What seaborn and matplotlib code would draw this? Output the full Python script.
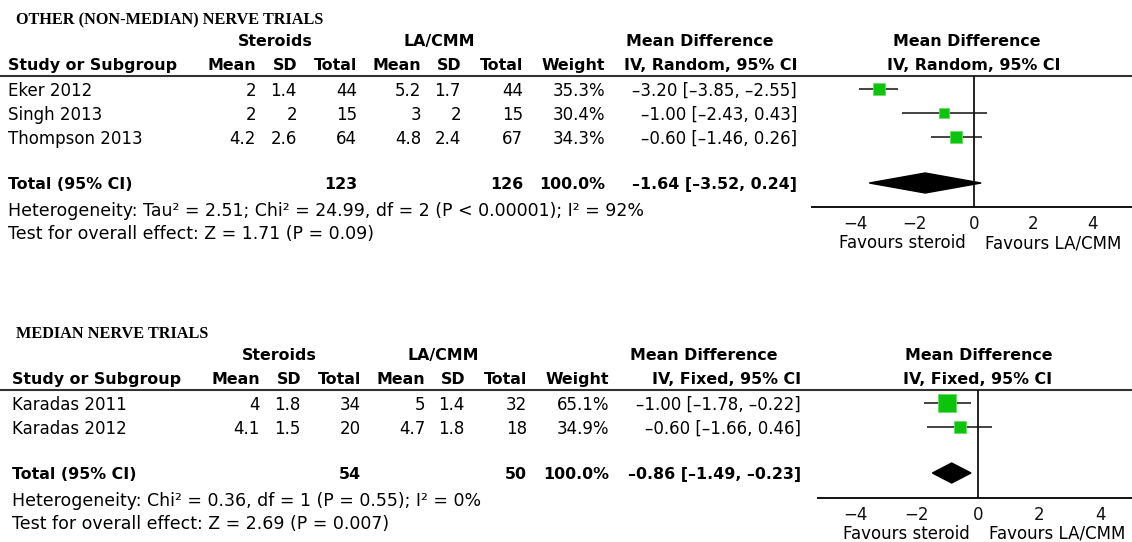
import pandas as pd
import seaborn as sns
import matplotlib.pyplot as plt

# ---- data: other (non-median) nerve trials ----
top_title = "OTHER (NON-MEDIAN) NERVE TRIALS"
top_studies = ["Eker 2012", "Singh 2013", "Thompson 2013"]
top_ster_mean = [2, 2, 4.2]
top_ster_sd = [1.4, 2, 2.6]
top_ster_n = [44, 15, 64]
top_la_mean = [5.2, 3, 4.8]
top_la_sd = [1.7, 2, 2.4]
top_la_n = [44, 15, 67]
top_weight = [35.3, 30.4, 34.3]
top_md = [-3.20, -1.00, -0.60]
top_lo = [-3.85, -2.43, -1.46]
top_hi = [-2.55, 0.43, 0.26]
top_total = {"n1": 123, "n2": 126, "md": -1.64, "lo": -3.52, "hi": 0.24}
top_method = "IV, Random, 95% CI"
top_het = "Heterogeneity: Tau² = 2.51; Chi² = 24.99, df = 2 (P < 0.00001); I² = 92%"
top_test = "Test for overall effect: Z = 1.71 (P = 0.09)"

# ---- data: median nerve trials ----
bot_title = "MEDIAN NERVE TRIALS"
bot_studies = ["Karadas 2011", "Karadas 2012"]
bot_ster_mean = [4, 4.1]
bot_ster_sd = [1.8, 1.5]
bot_ster_n = [34, 20]
bot_la_mean = [5, 4.7]
bot_la_sd = [1.4, 1.8]
bot_la_n = [32, 18]
bot_weight = [65.1, 34.9]
bot_md = [-1.00, -0.60]
bot_lo = [-1.78, -1.66]
bot_hi = [-0.22, 0.46]
bot_total = {"n1": 54, "n2": 50, "md": -0.86, "lo": -1.49, "hi": -0.23}
bot_method = "IV, Fixed, 95% CI"
bot_het = "Heterogeneity: Chi² = 0.36, df = 1 (P = 0.55); I² = 0%"
bot_test = "Test for overall effect: Z = 2.69 (P = 0.007)"

axis_ticks = [-4, -2, 0, 2, 4]

sns.set_style("white")
plt.rcParams["font.family"] = ["DejaVu Sans"]
plt.rcParams["text.color"] = "black"

W, H = 1132, 542
fig = plt.figure(figsize=(W / 100, H / 100), dpi=100)
bg = fig.add_axes([0, 0, 1, 1])
bg.set_xlim(0, W)
bg.set_ylim(H, 0)
bg.axis("off")

FS = 12      # regular text
FB = 11.4    # bold text
VA = "center_baseline"
GREEN = "#0cc40c"


def fmt_ci(md, lo, hi):
    # RevMan prints its minus signs as short dashes
    return f"{md:.2f} [{lo:.2f}, {hi:.2f}]".replace("-", "\u2013")


def txt(x, y, s, bold=False, ha="left", size=None):
    if size is None:
        size = FB if bold else FS
    bg.text(x, y, s, fontsize=size, weight="bold" if bold else "normal", ha=ha, va=VA)


def draw_panel(y0, dx, title, studies, m1, s1, n1, m2, s2, n2, weight,
               md, lo, hi, total, method, het, test, ax_left, zero_x, unit_px, ax_y):
    df = pd.DataFrame({"study": studies, "md": md, "lo": lo, "hi": hi, "weight": weight})
    cols = [c + dx for c in [256, 297, 357, 421, 461, 523]]
    w_x, ci_x = 605 + dx, 797 + dx

    bg.text(16, y0, title, family="Liberation Serif", weight="bold", fontsize=11.7,
            va=VA, ha="left")
    txt(275 + dx, y0 + 22, "Steroids", True, "center")
    txt(439 + dx, y0 + 22, "LA/CMM", True, "center")
    txt(700 + dx, y0 + 22, "Mean Difference", True, "center")
    txt(zero_x - 7 + 2 * dx, y0 + 22, "Mean Difference", True, "center")

    hy = y0 + 46
    txt(8 + dx, hy, "Study or Subgroup", True)
    for x, lab in zip(cols, ["Mean", "SD", "Total", "Mean", "SD", "Total"]):
        txt(x, hy, lab, True, "right")
    txt(w_x, hy, "Weight", True, "right")
    txt(ci_x, hy, method, True, "right")
    txt(zero_x, hy, method, True, "center")
    line_y = y0 + 58
    bg.plot([0, W], [line_y, line_y], color="#333333", lw=1.5)

    rows = [line_y + 13 + 24 * i for i in range(len(studies))]
    for i, y in enumerate(rows):
        txt(8 + dx, y, studies[i])
        vals = [f"{m1[i]:g}", f"{s1[i]:g}", f"{n1[i]}", f"{m2[i]:g}", f"{s2[i]:g}", f"{n2[i]}"]
        for x, v in zip(cols, vals):
            txt(x, y, v, ha="right")
        txt(w_x, y, f"{weight[i]:.1f}%", ha="right")
        txt(ci_x, y, fmt_ci(md[i], lo[i], hi[i]), ha="right")

    ty = rows[-1] + 46
    txt(8 + dx, ty, "Total (95% CI)", True)
    txt(cols[2], ty, str(total["n1"]), True, "right")
    txt(cols[5], ty, str(total["n2"]), True, "right")
    txt(w_x, ty, "100.0%", True, "right")
    txt(ci_x, ty, fmt_ci(total["md"], total["lo"], total["hi"]), True, "right")
    txt(8 + dx, ty + 26, het, size=12.5)
    txt(8 + dx, ty + 49, test, size=12.5)

    # forest axes: x in mean-difference units, y in figure pixels
    xmin = (ax_left - zero_x) / unit_px
    xmax = (W - zero_x) / unit_px
    ax = fig.add_axes([ax_left / W, (H - ax_y) / H, (W - ax_left) / W, (ax_y - line_y) / H])
    ax.set_xlim(xmin, xmax)
    ax.set_ylim(ax_y, line_y)
    ax.patch.set_alpha(0)
    for s in ["top", "right", "left"]:
        ax.spines[s].set_visible(False)
    ax.spines["bottom"].set_linewidth(1.4)
    ax.spines["bottom"].set_color("#111111")
    ax.set_yticks([])
    ax.set_xticks(axis_ticks)
    ax.tick_params(axis="x", direction="inout", length=13, width=1.4, pad=-1,
                   labelsize=12, colors="#111111")
    ax.axvline(0, color="#111111", lw=1.3)

    df["y"] = rows
    ax.hlines(df["y"], df["lo"], df["hi"], color="#111111", lw=1.1)
    for _, r in df.iterrows():
        side = 3.6 + 0.226 * r["weight"]
        sns.scatterplot(x=[r["md"]], y=[r["y"]], marker="s", s=(side * 0.72) ** 2,
                        color=GREEN, edgecolor="#66dd66", linewidth=0.6, ax=ax,
                        legend=False, zorder=3)
    ax.set_xlabel("")
    ax.set_ylabel("")
    ax.fill([total["lo"], total["md"], total["hi"], total["md"]],
            [ty, ty - 10, ty, ty + 10], color="black", zorder=3)

    fy = ax_y + 34
    bg.text(zero_x - 72, fy, "Favours steroid", fontsize=12, ha="center", va=VA)
    bg.text(zero_x + 79, fy, "Favours LA/CMM", fontsize=12, ha="center", va=VA)


draw_panel(18, 0, top_title, top_studies, top_ster_mean, top_ster_sd, top_ster_n,
           top_la_mean, top_la_sd, top_la_n, top_weight, top_md, top_lo, top_hi,
           top_total, top_method, top_het, top_test,
           ax_left=812, zero_x=974, unit_px=29.75, ax_y=207)
draw_panel(332, 4, bot_title, bot_studies, bot_ster_mean, bot_ster_sd, bot_ster_n,
           bot_la_mean, bot_la_sd, bot_la_n, bot_weight, bot_md, bot_lo, bot_hi,
           bot_total, bot_method, bot_het, bot_test,
           ax_left=818, zero_x=978, unit_px=30.6, ax_y=498)

fig.savefig("out.png", dpi=100)
